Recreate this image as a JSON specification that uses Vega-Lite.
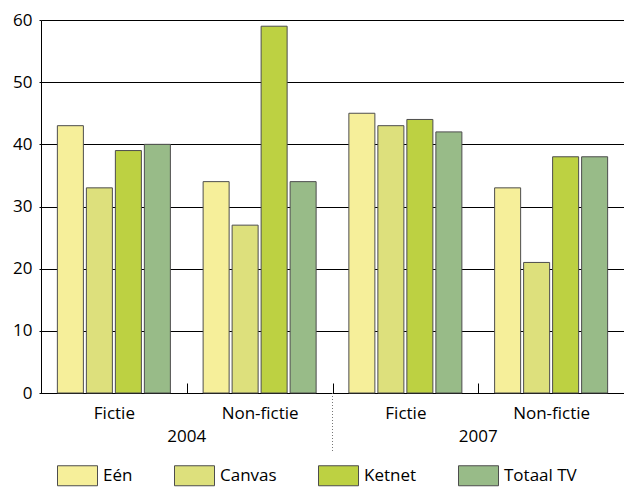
{
  "$schema": "https://vega.github.io/schema/vega-lite/v6.json",
  "width": 583,
  "height": 373,
  "autosize": "none",
  "padding": {"left": 41, "top": 20, "right": 0, "bottom": 94},
  "config": {
    "font": "Open Sans",
    "view": {"stroke": null},
    "axis": {"labelFont": "Open Sans", "labelColor": "black", "labelFontSize": 17, "labelFontWeight": "normal"}
  },
  "layer": [
    {
      "data": {
        "values": [
          {"key": "2004|Fictie", "channel": "Eén", "value": 43},
          {"key": "2004|Fictie", "channel": "Canvas", "value": 33},
          {"key": "2004|Fictie", "channel": "Ketnet", "value": 39},
          {"key": "2004|Fictie", "channel": "Totaal TV", "value": 40},
          {"key": "2004|Non-fictie", "channel": "Eén", "value": 34},
          {"key": "2004|Non-fictie", "channel": "Canvas", "value": 27},
          {"key": "2004|Non-fictie", "channel": "Ketnet", "value": 59},
          {"key": "2004|Non-fictie", "channel": "Totaal TV", "value": 34},
          {"key": "2007|Fictie", "channel": "Eén", "value": 45},
          {"key": "2007|Fictie", "channel": "Canvas", "value": 43},
          {"key": "2007|Fictie", "channel": "Ketnet", "value": 44},
          {"key": "2007|Fictie", "channel": "Totaal TV", "value": 42},
          {"key": "2007|Non-fictie", "channel": "Eén", "value": 33},
          {"key": "2007|Non-fictie", "channel": "Canvas", "value": 21},
          {"key": "2007|Non-fictie", "channel": "Ketnet", "value": 38},
          {"key": "2007|Non-fictie", "channel": "Totaal TV", "value": 38}
        ]
      },
      "mark": {"type": "bar", "stroke": "#4d4d4d", "strokeWidth": 1},
      "encoding": {
        "x": {
          "field": "key", "type": "nominal", "sort": null,
          "scale": {"paddingInner": 0, "paddingOuter": 0},
          "axis": {
            "title": null, "orient": "bottom", "labelExpr": "split(datum.label,'|')[1]", "labelAngle": 0,
            "tickBand": "extent", "tickSize": -10, "tickColor": "black", "domainColor": "black",
            "labelPadding": 22
          }
        },
        "xOffset": {
          "field": "channel", "type": "nominal", "sort": ["Eén", "Canvas", "Ketnet", "Totaal TV"],
          "scale": {"paddingInner": 0.1034, "paddingOuter": 0.5646}
        },
        "y": {
          "field": "value", "type": "quantitative",
          "scale": {"domain": [0, 60]},
          "axis": {
            "title": null, "values": [0, 10, 20, 30, 40, 50, 60], "grid": true,
            "gridColor": "black", "gridOpacity": 1, "domainColor": "black",
            "tickColor": "black", "tickSize": 2, "labelPadding": 7
          }
        },
        "color": {
          "field": "channel", "type": "nominal",
          "scale": {"domain": ["Eén", "Canvas", "Ketnet", "Totaal TV"], "range": ["#F6EF9A", "#DDE07C", "#BDD142", "#98BB88"]},
          "legend": {
            "title": null, "orient": "none", "legendX": 16, "legendY": 435, "direction": "horizontal",
            "symbolType": "M-1,-0.5H1V0.5H-1Z", "symbolSize": 1600,
            "symbolStrokeColor": "#4d4d4d", "symbolStrokeWidth": 1, "symbolOpacity": 1,
            "labelFontSize": 17, "labelColor": "black", "labelFont": "Open Sans",
            "columnPadding": 39, "labelOffset": 5
          }
        }
      }
    },
    {
      "data": {"values": [{"year": "2007"}]},
      "mark": {"type": "rule", "strokeDash": [1, 2], "color": "#777777", "strokeWidth": 1},
      "encoding": {
        "x": {
          "field": "year", "type": "nominal", "bandPosition": 0,
          "scale": {"domain": ["2004", "2007"], "paddingInner": 0, "paddingOuter": 0},
          "axis": {"title": null, "orient": "bottom", "domain": false, "ticks": false, "labelAngle": 0, "labelPadding": 35, "grid": false}
        },
        "y": {"datum": 0, "type": "quantitative", "scale": {"domain": [0, 60]}},
        "y2": {"datum": -9.5}
      }
    }
  ],
  "resolve": {"scale": {"x": "independent"}, "axis": {"x": "independent"}}
}
